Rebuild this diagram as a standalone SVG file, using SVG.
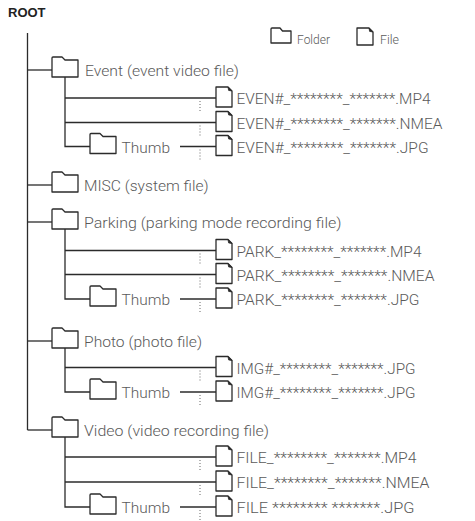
<svg xmlns="http://www.w3.org/2000/svg" width="475" height="521" viewBox="0 0 475 521">
<style>
.ln{stroke:#2b2b2b;stroke-width:1.3;fill:none}
.dot{stroke:#666;stroke-width:1;stroke-dasharray:1 2;fill:none}
.ic{stroke:#2b2b2b;stroke-width:1.3;fill:#fff;stroke-linejoin:round}
.fold{fill:#2b2b2b;stroke:#2b2b2b;stroke-width:0.8}
.t{font-family:Roboto,"Liberation Sans",sans-serif;font-weight:300;font-size:15.5px;fill:#5a5a5a}
.lg{font-family:Roboto,"Liberation Sans",sans-serif;font-weight:300;font-size:12.5px;fill:#5a5a5a}
.root{font-family:"Liberation Sans",Arial,sans-serif;font-weight:bold;font-size:13px;fill:#222}
</style>
<defs>
<path id="folder" class="ic" d="M0,7 V-12 Q0,-13 1,-13 H10 L13,-10 H26 V7 Z"/>
<g id="file"><path class="ic" d="M0,-11 H12 L16,-7 V9 H0 Z"/><path class="fold" d="M12,-11 L12.6,-7.6 L16,-7 Z"/></g>
</defs>

<g id="connectors">
<line class="ln" x1="27.5" y1="33" x2="27.5" y2="430"/>
<line class="ln" x1="27.5" y1="70" x2="52" y2="70"/>
<line class="ln" x1="27.5" y1="185" x2="52" y2="185"/>
<line class="ln" x1="27.5" y1="222" x2="52" y2="222"/>
<line class="ln" x1="27.5" y1="341" x2="52" y2="341"/>
<line class="ln" x1="27.5" y1="430" x2="52" y2="430"/>
<!-- Event -->
<path class="ln" d="M65,77 V146.5 H90"/>
<line class="ln" x1="65" y1="98" x2="216" y2="98"/>
<line class="ln" x1="65" y1="122.5" x2="216" y2="122.5"/>
<line class="ln" x1="180" y1="146.5" x2="216" y2="146.5"/>
<!-- Parking -->
<path class="ln" d="M65,229 V299 H90"/>
<line class="ln" x1="65" y1="250.5" x2="216" y2="250.5"/>
<line class="ln" x1="65" y1="274.5" x2="216" y2="274.5"/>
<line class="ln" x1="180" y1="299" x2="216" y2="299"/>
<!-- Photo -->
<path class="ln" d="M65,348 V392 H90"/>
<line class="ln" x1="65" y1="367.5" x2="216" y2="367.5"/>
<line class="ln" x1="180" y1="392" x2="216" y2="392"/>
<!-- Video -->
<path class="ln" d="M65,437 V507 H90"/>
<line class="ln" x1="65" y1="457" x2="216" y2="457"/>
<line class="ln" x1="65" y1="482" x2="216" y2="482"/>
<line class="ln" x1="180" y1="507" x2="216" y2="507"/>
<!-- dotted -->
<path class="dot" d="M200,101 V112 M200,125.5 V136.5 M200,149.5 V160.5 M200,253.5 V264.5 M200,277.5 V288.5 M200,302 V313 M200,370.5 V381.5 M200,395 V406 M200,460 V471 M200,485 V496 M200,510 V521"/>
</g>

<g id="root"><text class="root" x="8" y="17">ROOT</text></g>

<g id="legend">
<path class="ic" d="M271,43 V29 Q271,28 272,28 H280 L282.5,31 H291 V43 Z"/>
<text class="lg" x="297" y="44" textLength="33" lengthAdjust="spacingAndGlyphs">Folder</text>
<path class="ic" d="M357,28 H369 L373,32 V45 H357 Z"/><path class="fold" d="M369,28 L369.6,31.4 L373,32 Z"/>
<text class="lg" x="380" y="44" textLength="19" lengthAdjust="spacingAndGlyphs">File</text>
</g>

<g id="event"><use href="#folder" x="52" y="70"/><text class="t" x="85" y="76" textLength="154" lengthAdjust="spacingAndGlyphs">Event (event video file)</text></g>
<g id="event-mp4"><use href="#file" x="216" y="98"/><text class="t" x="236.5" y="104" textLength="194" lengthAdjust="spacingAndGlyphs">EVEN#_********_*******.MP4</text></g>
<g id="event-nmea"><use href="#file" x="216" y="122.5"/><text class="t" x="236.5" y="128.5" textLength="206" lengthAdjust="spacingAndGlyphs">EVEN#_********_*******.NMEA</text></g>
<g id="event-thumb"><use href="#folder" x="90" y="146.5"/><text class="t" x="121.5" y="152.5" textLength="48.5" lengthAdjust="spacingAndGlyphs">Thumb</text></g>
<g id="event-jpg"><use href="#file" x="216" y="146.5"/><text class="t" x="236.5" y="152.5" textLength="192" lengthAdjust="spacingAndGlyphs">EVEN#_********_*******.JPG</text></g>

<g id="misc"><use href="#folder" x="52" y="185"/><text class="t" x="84" y="191" textLength="124.5" lengthAdjust="spacingAndGlyphs">MISC (system file)</text></g>

<g id="parking"><use href="#folder" x="52" y="222"/><text class="t" x="84" y="228" textLength="257.5" lengthAdjust="spacingAndGlyphs">Parking (parking mode recording file)</text></g>
<g id="parking-mp4"><use href="#file" x="216" y="250.5"/><text class="t" x="236.5" y="256.5" textLength="185" lengthAdjust="spacingAndGlyphs">PARK_********_*******.MP4</text></g>
<g id="parking-nmea"><use href="#file" x="216" y="274.5"/><text class="t" x="236.5" y="280.5" textLength="198" lengthAdjust="spacingAndGlyphs">PARK_********_*******.NMEA</text></g>
<g id="parking-thumb"><use href="#folder" x="90" y="299"/><text class="t" x="121.5" y="305" textLength="48.5" lengthAdjust="spacingAndGlyphs">Thumb</text></g>
<g id="parking-jpg"><use href="#file" x="216" y="299"/><text class="t" x="236.5" y="305" textLength="183" lengthAdjust="spacingAndGlyphs">PARK_********_*******.JPG</text></g>

<g id="photo"><use href="#folder" x="52" y="341"/><text class="t" x="84" y="347" textLength="118" lengthAdjust="spacingAndGlyphs">Photo (photo file)</text></g>
<g id="photo-jpg"><use href="#file" x="216" y="367.5"/><text class="t" x="236.5" y="373.5" textLength="179" lengthAdjust="spacingAndGlyphs">IMG#_********_*******.JPG</text></g>
<g id="photo-thumb"><use href="#folder" x="90" y="392"/><text class="t" x="121.5" y="398" textLength="48.5" lengthAdjust="spacingAndGlyphs">Thumb</text></g>
<g id="photo-thumb-jpg"><use href="#file" x="216" y="392"/><text class="t" x="236.5" y="398" textLength="179" lengthAdjust="spacingAndGlyphs">IMG#_********_*******.JPG</text></g>

<g id="video"><use href="#folder" x="52" y="430"/><text class="t" x="84" y="436" textLength="185" lengthAdjust="spacingAndGlyphs">Video (video recording file)</text></g>
<g id="video-mp4"><use href="#file" x="216" y="457"/><text class="t" x="236.5" y="463" textLength="180" lengthAdjust="spacingAndGlyphs">FILE_********_*******.MP4</text></g>
<g id="video-nmea"><use href="#file" x="216" y="482"/><text class="t" x="236.5" y="488" textLength="193" lengthAdjust="spacingAndGlyphs">FILE_********_*******.NMEA</text></g>
<g id="video-thumb"><use href="#folder" x="90" y="507"/><text class="t" x="121.5" y="513" textLength="48.5" lengthAdjust="spacingAndGlyphs">Thumb</text></g>
<g id="video-jpg"><use href="#file" x="216" y="507"/><text class="t" x="236.5" y="513" textLength="178" lengthAdjust="spacingAndGlyphs">FILE ******** *******.JPG</text></g>
</svg>
